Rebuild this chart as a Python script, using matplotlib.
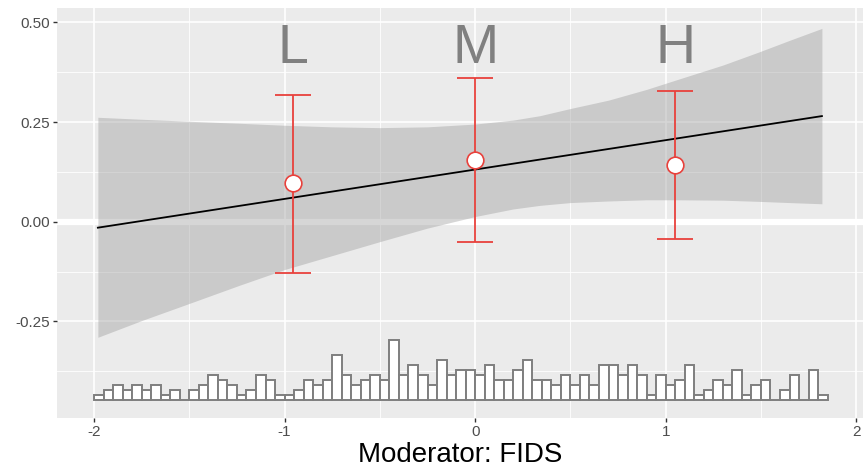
import matplotlib
matplotlib.use("Agg")
import matplotlib.pyplot as plt
import numpy as np

plt.rcParams['font.family'] = ['Liberation Sans', 'DejaVu Sans']

# regression line and confidence band
line_x = [-1.98, 1.82]
line_y = [-0.015, 0.265]

ribbon_x = [-1.98, -1.75, -1.5, -1.24, -1.0, -0.75, -0.5, -0.25, 0.0, 0.2, 0.34,
            0.5, 0.7, 0.9, 1.05, 1.3, 1.49, 1.65, 1.82]
ribbon_upper = [0.262, 0.257, 0.252, 0.247, 0.242, 0.238, 0.236, 0.238, 0.245, 0.255, 0.266,
                0.284, 0.305, 0.332, 0.355, 0.393, 0.426, 0.455, 0.485]
ribbon_lower = [-0.29, -0.248, -0.205, -0.16, -0.12, -0.085, -0.05, -0.016, 0.013, 0.032, 0.041,
                0.048, 0.052, 0.055, 0.055, 0.054, 0.051, 0.048, 0.045]

# simple slopes at low / mid / high moderator
groups = ['L', 'M', 'H']
group_x = [-0.958, 0.0, 1.049]
group_est = [0.097, 0.154, 0.143]
group_lo = [-0.128, -0.052, -0.044]
group_hi = [0.319, 0.361, 0.329]

# histogram of the moderator (counts per bin of width 0.05 starting at -2)
hist_start = -2.0
hist_width = 0.05
hist_counts = [1, 2, 3, 2, 3, 2, 3, 1, 2, 0,
               2, 3, 5, 4, 3, 1, 2, 5, 4, 1,
               1, 2, 4, 3, 4, 9, 5, 3, 4, 5,
               4, 12, 5, 7, 5, 3, 8, 5, 6, 6,
               5, 7, 4, 4, 6, 8, 4, 4, 3, 5,
               3, 5, 3, 7, 7, 5, 7, 5, 1, 5,
               3, 4, 7, 1, 2, 4, 3, 6, 1, 3,
               4, 0, 2, 5, 0, 6, 1]
hist_base = -0.4475
hist_scale = 0.0125

x_ticks = [-2, -1, 0, 1, 2]
x_labels = ['-2', '-1', '0', '1', '2']
y_ticks = [-0.25, 0.0, 0.25, 0.5]
y_labels = ['-0.25', '0.00', '0.25', '0.50']

fig = plt.figure(figsize=(8.65, 4.75), dpi=100)
ax = fig.add_axes([0.066, 0.12, 0.932, 0.863])
ax.set_facecolor('#EBEBEB')

# grid like ggplot
for v in [-1.5, -0.5, 0.5, 1.5]:
    ax.axvline(v, color='white', lw=0.6, zorder=0)
for v in [-0.375, -0.125, 0.125, 0.375]:
    ax.axhline(v, color='white', lw=0.6, zorder=0)
for v in x_ticks:
    ax.axvline(v, color='white', lw=1.2, zorder=0)
for v in y_ticks:
    ax.axhline(v, color='white', lw=1.2, zorder=0)
ax.axhline(0, color='white', lw=4.5, zorder=0.5)

# confidence band and line
ax.fill_between(ribbon_x, ribbon_lower, ribbon_upper, color='#999999', alpha=0.4, lw=0, zorder=1)
ax.plot(line_x, line_y, color='black', lw=1.3, zorder=2)

# histogram
lefts = hist_start + hist_width * np.arange(len(hist_counts))
heights = np.array(hist_counts) * hist_scale
ax.bar(lefts, heights, width=hist_width, bottom=hist_base, align='edge',
       facecolor='white', edgecolor='#7f7f7f', lw=1.4, zorder=3)

# error bars and points
err = [np.array(group_est) - np.array(group_lo), np.array(group_hi) - np.array(group_est)]
ax.errorbar(group_x, group_est, yerr=err, fmt='none', ecolor='#e8413c',
            elinewidth=1.3, capsize=13, capthick=1.3, zorder=4)
ax.plot(group_x, group_est, 'o', ms=12, mfc='white', mec='#e8413c', mew=1.2, zorder=5)

for gx, g in zip(group_x, groups):
    ax.text(gx, 0.398, g, fontsize=40, color='#808080', ha='center', va='baseline', zorder=6)

ax.set_xlim(-2.194, 2.037)
ax.set_ylim(-0.4925, 0.536)
ax.set_xticks(x_ticks)
ax.set_xticklabels(x_labels)
ax.set_yticks(y_ticks)
ax.set_yticklabels(y_labels)
ax.tick_params(length=3, width=1, color='#333333', labelsize=11, labelcolor='#4D4D4D', pad=2)
for s in ax.spines.values():
    s.set_visible(False)

ax.set_xlabel('Moderator: FIDS', fontsize=20, color='black', labelpad=2)

fig.savefig('out.png', dpi=100)
